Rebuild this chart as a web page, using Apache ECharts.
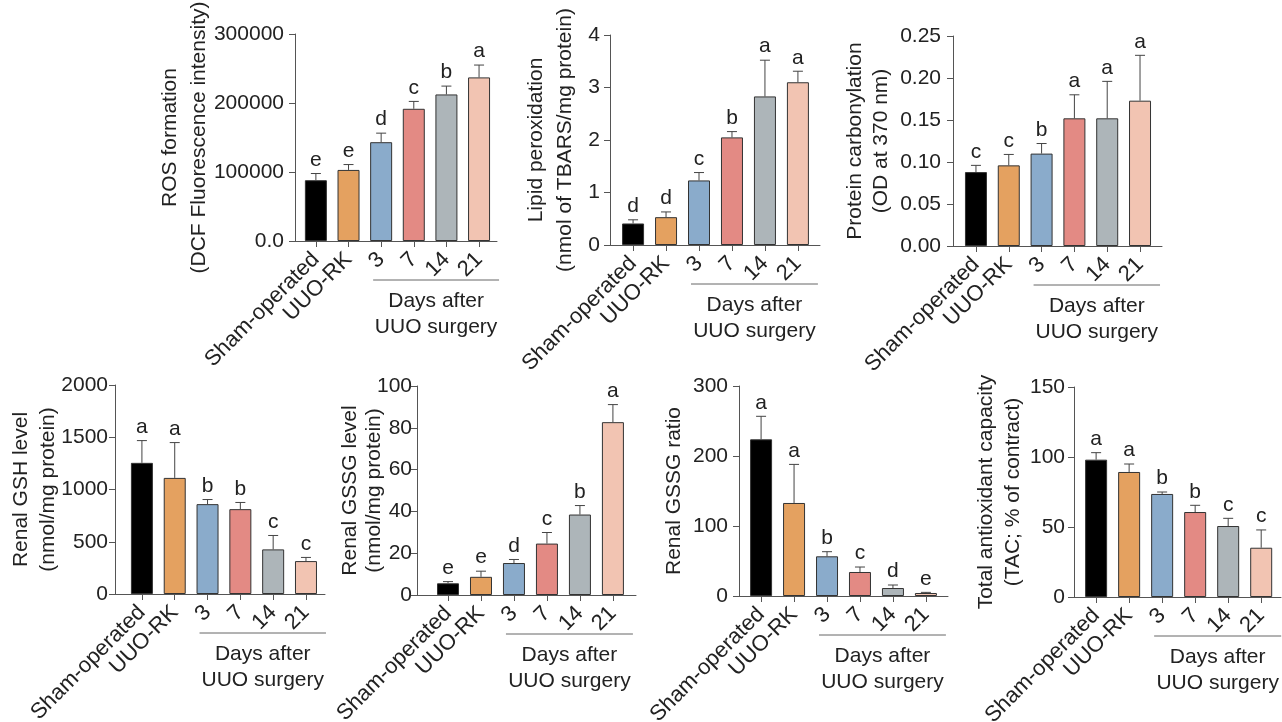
<!DOCTYPE html>
<html>
<head>
<meta charset="utf-8">
<script src="https://cdn.jsdelivr.net/npm/echarts@6/dist/echarts.min.js"></script>
<style>
html, body { margin: 0; padding: 0; background: #fff; }
#chart { width: 1282px; height: 722px; }
</style>
</head>
<body>
<div id="chart"></div>
<script>
// groups on the x axis
const groups = ['Sham-operated', 'UUO-RK', '3', '7', '14', '21'];

// ROS formation
const rosMean = [88100, 103000, 143200, 191600, 212400, 237100];
const rosSd = [9700, 7800, 13100, 10700, 12100, 17900];
const rosSig = ['e', 'e', 'd', 'c', 'b', 'a'];

// lipid peroxidation
const lipidMean = [0.41, 0.53, 1.23, 2.05, 2.83, 3.10];
const lipidSd = [0.07, 0.10, 0.15, 0.11, 0.69, 0.21];
const lipidSig = ['d', 'd', 'c', 'b', 'a', 'a'];

// protein carbonylation
const carbMean = [0.088, 0.096, 0.110, 0.152, 0.152, 0.173];
const carbSd = [0.008, 0.013, 0.012, 0.028, 0.044, 0.054];
const carbSig = ['c', 'c', 'b', 'a', 'a', 'a'];

// renal GSH
const gshMean = [1255, 1111, 860, 812, 427, 315];
const gshSd = [213, 338, 44, 64, 133, 35];
const gshSig = ['a', 'a', 'b', 'b', 'c', 'c'];

// renal GSSG
const gssgMean = [5.6, 8.7, 15.3, 24.6, 38.5, 82.7];
const gssgSd = [0.8, 2.7, 1.7, 5.3, 4.3, 8.4];
const gssgSig = ['e', 'e', 'd', 'c', 'b', 'a'];

// GSH/GSSG ratio
const ratioMean = [223.8, 132.9, 56.7, 34.3, 11.4, 4.3];
const ratioSd = [32.9, 55.1, 6.6, 7.1, 4.3, 0.9];
const ratioSig = ['a', 'a', 'b', 'c', 'd', 'e'];

// total antioxidant capacity
const tacMean = [98.1, 89.3, 73.6, 60.7, 50.7, 35.2];
const tacSd = [5.0, 5.7, 1.4, 4.8, 5.5, 12.7];
const tacSig = ['a', 'a', 'b', 'b', 'c', 'c'];

const barColors = ['#000000', '#e4a160', '#8aabcb', '#e38a84', '#adb5b9', '#f2c4b2'];
const FONT = '"Liberation Sans", Arial, sans-serif';
const AXIS = '#555';
const TXT = '#222';

// panel layout (pixels) and axis setup
const panels = [
  { mean: rosMean, sd: rosSd, sig: rosSig, name: 'ROS formation\n(DCF Fluorescence intensity)',
    left: 295, top: 34, width: 202, height: 207, xmin: -0.64, xmax: 5.55, ymax: 300000, step: 100000,
    gap: 81, lh: 29, lm: 11, fmt: v => (v === 0 ? '0.0' : String(v)) },
  { mean: lipidMean, sd: lipidSd, sig: lipidSig, name: 'Lipid peroxidation\n(nmol of TBARS/mg protein)',
    left: 610, top: 35, width: 210, height: 210, xmin: -0.7, xmax: 5.67, ymax: 4, step: 1,
    gap: 30, lh: 29, lm: 10, fmt: v => String(v) },
  { mean: carbMean, sd: carbSd, sig: carbSig, name: 'Protein carbonylation\n(OD at 370 nm)',
    left: 953, top: 36, width: 209, height: 210, xmin: -0.7, xmax: 5.67, ymax: 0.25, step: 0.05,
    gap: 59, lh: 26, lm: 12, fmt: v => v.toFixed(2) },
  { mean: gshMean, sd: gshSd, sig: gshSig, name: 'Renal GSH level\n(nmol/mg protein)',
    left: 115, top: 385, width: 210, height: 209, xmin: -0.82, xmax: 5.58, ymax: 2000, step: 500,
    gap: 53, lh: 27, lm: 7, fmt: v => String(v) },
  { mean: gssgMean, sd: gssgSd, sig: gssgSig, name: 'Renal GSSG level\n(nmol/mg protein)',
    left: 417, top: 386, width: 219, height: 209, xmin: -0.94, xmax: 5.7, ymax: 100, step: 20,
    gap: 31, lh: 24, lm: 5, fmt: v => String(v) },
  { mean: ratioMean, sd: ratioSd, sig: ratioSig, name: 'Renal GSSG ratio',
    left: 739, top: 386, width: 209, height: 210, xmin: -0.67, xmax: 5.67, ymax: 300, step: 100,
    gap: 51, lh: 27, lm: 11, fmt: v => String(v) },
  { mean: tacMean, sd: tacSd, sig: tacSig, name: 'Total antioxidant capacity\n(TAC; % of contract)',
    left: 1074, top: 387, width: 207, height: 210, xmin: -0.67, xmax: 5.6, ymax: 150, step: 50,
    gap: 47, lh: 27, lm: 9, fmt: v => String(v) }
];

const idx = groups.map((g, i) => i);

function errRender(letters) {
  return function (params, api) {
    const x = api.value(0);
    const m = api.value(1);
    const s = api.value(2);
    const base = api.coord([x, m]);
    const top = api.coord([x, m + s]);
    return {
      type: 'group',
      children: [
        { type: 'line', shape: { x1: base[0], y1: base[1], x2: top[0], y2: top[1] },
          style: { stroke: '#444', lineWidth: 1 } },
        { type: 'line', shape: { x1: top[0] - 5, y1: top[1], x2: top[0] + 5, y2: top[1] },
          style: { stroke: '#444', lineWidth: 1 } },
        { type: 'text', x: top[0], y: top[1] - 3,
          style: { text: letters[params.dataIndex], fill: TXT, fontSize: 21, fontFamily: FONT,
                   align: 'center', verticalAlign: 'bottom' } }
      ]
    };
  };
}

const grid = [], xAxis = [], yAxis = [], series = [];
panels.forEach((p, i) => {
  grid.push({ left: p.left, top: p.top, width: p.width, height: p.height, outerBoundsMode: 'none' });
  xAxis.push({
    type: 'value', gridIndex: i, min: p.xmin, max: p.xmax,
    splitLine: { show: false },
    axisLine: { show: true, onZero: false, lineStyle: { color: AXIS, width: 1 } },
    axisTick: { show: true, customValues: idx, length: 6, lineStyle: { color: AXIS } },
    axisLabel: { customValues: idx, rotate: 45, fontSize: 22, fontFamily: FONT, color: TXT, margin: 15,
                 align: 'right', verticalAlign: 'middle',
                 formatter: v => groups[Math.round(v)] }
  });
  yAxis.push({
    type: 'value', gridIndex: i, min: 0, max: p.ymax, interval: p.step,
    splitLine: { show: false },
    axisLine: { show: true, onZero: false, lineStyle: { color: AXIS, width: 1 } },
    axisTick: { show: true, length: 6, lineStyle: { color: AXIS } },
    axisLabel: { fontSize: 21, fontFamily: FONT, color: TXT, margin: p.lm, formatter: p.fmt },
    name: p.name, nameLocation: 'middle', nameRotate: 90, nameGap: p.gap, nameMoveOverlap: false,
    nameTextStyle: { fontSize: 21, fontFamily: FONT, color: TXT, lineHeight: p.lh }
  });
  series.push({
    type: 'bar', xAxisIndex: i, yAxisIndex: i, barWidth: 22, z: 2,
    data: p.mean.map((v, k) => ({ value: [k, v], itemStyle: { color: barColors[k] } })),
    itemStyle: { borderColor: '#333', borderWidth: 1 }
  });
  series.push({
    type: 'custom', xAxisIndex: i, yAxisIndex: i, z: 3,
    renderItem: errRender(p.sig),
    encode: { x: 0, y: 1 },
    data: p.mean.map((v, k) => [k, v, p.sd[k]])
  });
});

const chart = echarts.init(document.getElementById('chart'));
chart.setOption({
  animation: false,
  backgroundColor: '#fff',
  grid, xAxis, yAxis, series
});

// "Days after UUO surgery" brackets under the 3..21 groups
const graphic = [];
panels.forEach((p, i) => {
  const a = chart.convertToPixel({ gridIndex: i }, [2, 0]);
  const b = chart.convertToPixel({ gridIndex: i }, [5, 0]);
  const x1 = a[0] - 8, x2 = b[0] + 20, y = a[1] + 39;
  const cx = (x1 + x2) / 2;
  graphic.push({ type: 'line', shape: { x1, y1: y, x2, y2: y }, style: { stroke: '#666', lineWidth: 1 } });
  graphic.push({ type: 'text', x: cx, y: y + 21,
    style: { text: 'Days after', fontSize: 21, fontFamily: FONT, fill: TXT, align: 'center', verticalAlign: 'middle' } });
  graphic.push({ type: 'text', x: cx, y: y + 47,
    style: { text: 'UUO surgery', fontSize: 21, fontFamily: FONT, fill: TXT, align: 'center', verticalAlign: 'middle' } });
});
chart.setOption({ graphic });
</script>
</body>
</html>
